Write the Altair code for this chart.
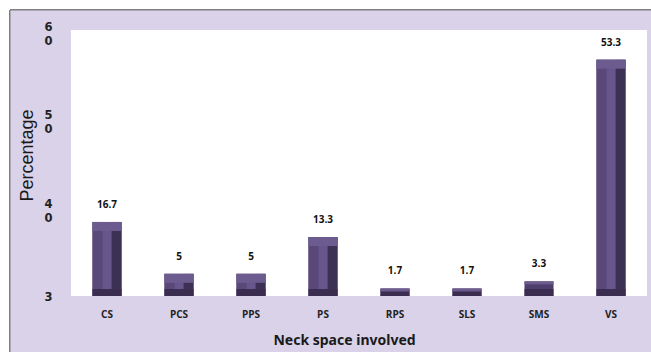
import altair as alt
import pandas as pd

categories = ["CS", "PCS", "PPS", "PS", "RPS", "SLS", "SMS", "VS"]
values = [16.7, 5, 5, 13.3, 1.7, 1.7, 3.3, 53.3]
y_tick_values = [0, 20, 40, 60]
y_tick_labels = [["3"], ["4", "0"], ["5", "0"], ["6", "0"]]

df = pd.DataFrame({"cat": categories, "val": values, "label": [f"{v:g}" for v in values]})

parts = []
for v, lab in zip(y_tick_values, y_tick_labels):
    arr = "[" + ",".join(f"'{s}'" for s in lab) + "]"
    parts.append(f"datum.value == {v} ? {arr} : ")
label_expr = "".join(parts) + "''"

W, H = 576, 266
BW = 29

x_enc = alt.X("cat:N", sort=categories, scale=alt.Scale(paddingInner=0.6, paddingOuter=0.3),
              axis=alt.Axis(title="Neck space involved", labelAngle=0, labelFont="Open Sans",
                            labelFontWeight="bold", labelFontSize=10, labelColor="#222222",
                            labelPadding=13, ticks=False, domain=False, zindex=2,
                            titleFont="Noto Sans", titleFontWeight="bold", titleFontSize=14,
                            titleColor="#1a1a1a", titleX=273, titleY=44, titleBaseline="middle",
                            titleAnchor="start", titleAlign="center"))
y_scale = alt.Scale(domain=[0, 60], nice=False)
y_enc = alt.Y("val:Q", scale=y_scale,
              axis=alt.Axis(title="Percentage", values=y_tick_values, labelExpr=label_expr,
                            labelFont="DejaVu Sans", labelFontWeight="bold", labelFontSize=11.5,
                            labelColor="#222222", labelAlign="center", labelPadding=23,
                            labelLineHeight=14, labelBaseline="middle",
                            labelOffset={"condition": {"test": "datum.value == 0", "value": 1}, "value": -3},
                            zindex=2, ticks=False, domain=False, grid=False,
                            titleFont="Liberation Sans", titleFontWeight="normal", titleFontSize=18,
                            titleColor="#1a1a1a", titleAngle=270, titleX=-44, titleY=125,
                            titleAlign="center", titleBaseline="middle"))

base = alt.Chart(df)

frame = base.mark_rect(fill="#D9D2E9", stroke="#7f7f7f", strokeWidth=1).encode(
    x=alt.value(-61), x2=alt.value(640), y=alt.value(-20), y2=alt.value(400))
plotbg = base.mark_rect(fill="white").encode(
    x=alt.value(0), x2=alt.value(W), y=alt.value(0), y2=alt.value(H))

bars = base.mark_bar(width=BW, color="#4E3E6E").encode(x=x_enc, y=y_enc)
big = base.transform_filter("datum.val >= 4")
left = big.mark_bar(width=10, xOffset=-9.5, color="#594878").encode(x=x_enc, y=alt.Y("val:Q", scale=y_scale))
right = big.mark_bar(width=10, xOffset=9.5, color="#3C3055").encode(x=x_enc, y=alt.Y("val:Q", scale=y_scale))
center = big.mark_bar(width=9, color="#67568C").encode(x=x_enc, y=alt.Y("val:Q", scale=y_scale))
bottom = base.transform_calculate(zero="0").mark_rect(width=BW, yOffset=-7, color="#3A2D50").encode(
    x=x_enc, y=alt.Y("zero:Q", scale=y_scale), y2="zero:Q")
top_big = big.mark_rect(width=BW, y2Offset=9, color="#6B5B8F").encode(
    x=x_enc, y=alt.Y("val:Q", scale=y_scale), y2="val:Q")
top_small = base.transform_filter("datum.val < 4").mark_rect(width=BW, y2Offset=3, color="#6B5B8F").encode(
    x=x_enc, y=alt.Y("val:Q", scale=y_scale), y2="val:Q")
labels = base.mark_text(font="Open Sans", fontWeight="bold", fontSize=10, color="#111111",
                        dy=-17, baseline="middle").encode(
    x=x_enc, y=alt.Y("val:Q", scale=y_scale), text="label:N")

chart = alt.layer(frame, plotbg, bars, left, right, center, bottom, top_big, top_small, labels).properties(
    width=W, height=H,
    padding={"left": 71, "top": 30, "right": 4, "bottom": 56},
    autosize=alt.AutoSizeParams(type="none"),
    background="white",
).configure_view(stroke=None, fill=None)

chart.save("out.html", embed_options={"renderer": "svg", "actions": False})
